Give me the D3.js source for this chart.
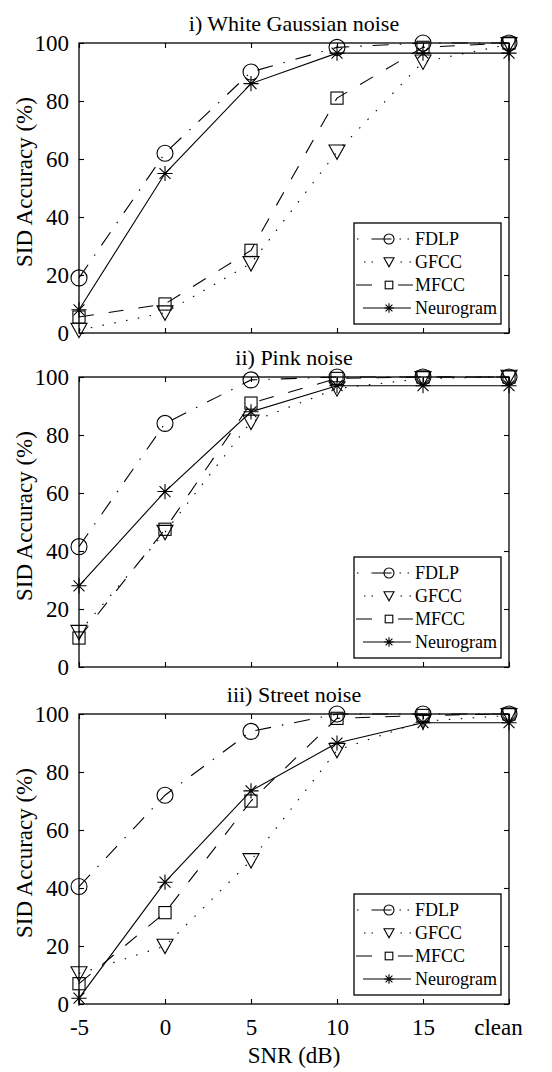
<!DOCTYPE html>
<html>
<head>
<meta charset="utf-8">
<script src="https://cdn.jsdelivr.net/npm/d3@7"></script>
<style>
body { margin: 0; background: #fff; }
svg { display: block; background: #fff; }
svg text { font-family: "Liberation Serif", "Times New Roman", "DejaVu Serif", serif !important; fill: #000; }
</style>
</head>
<body>
<svg width="552" height="1072"></svg>
<script>
// x categories and y ticks
var snrLabels = ["-5", "0", "5", "10", "15", "clean"];
var yTicks = [0, 20, 40, 60, 80, 100];
var panelTitles = ["i) White Gaussian noise", "ii) Pink noise", "iii) Street noise"];
var seriesNames = ["FDLP", "GFCC", "MFCC", "Neurogram"];

// SID accuracy (%)
var fdlpWhite  = [19, 62, 90, 98.5, 100, 100];
var gfccWhite  = [1, 7, 24, 62.5, 93.5, 99.5];
var mfccWhite  = [5.5, 10, 28.5, 81, 98.5, 100];
var neuroWhite = [8, 55, 86, 96.5, 96.5, 96.5];

var fdlpPink  = [41.5, 84, 99, 100, 100, 100];
var gfccPink  = [12, 46.5, 84.5, 96, 99.5, 100];
var mfccPink  = [10, 47.5, 91, 99.5, 100, 100];
var neuroPink = [28, 60.5, 88, 97, 97, 97];

var fdlpStreet  = [40.5, 72, 94, 100, 100, 100];
var gfccStreet  = [10.5, 20, 49.5, 87.5, 97.5, 99.5];
var mfccStreet  = [7, 31.5, 70, 98.5, 99.5, 100];
var neuroStreet = [2, 42, 73.5, 90, 97, 97];

var panelData = [
    [fdlpWhite, gfccWhite, mfccWhite, neuroWhite],
    [fdlpPink, gfccPink, mfccPink, neuroPink],
    [fdlpStreet, gfccStreet, mfccStreet, neuroStreet]
];

/*
layout
*/
var svg = d3.select("svg"),
    margin = {left: 79, right: 43},
    width = +svg.attr("width") - margin.left - margin.right,
    panelTop = [43, 377, 714],
    panelHeight = 290;

var xScale = d3.scalePoint().domain(snrLabels).range([0, width]);

// line style + marker for each series (legend samples have their own short patterns)
var seriesStyle = {
    FDLP:      {dash: "16,11,1.5,11", marker: "circle",   leg: [3, 58, "1.5,13,20,8,1.5,6.5,1.5,20"]},
    GFCC:      {dash: "1.5,10.5",     marker: "triangle", leg: [10, 58, "1.5,6,1.5,27.5,1.5,7.5,1.5,20"]},
    MFCC:      {dash: "15,15",        marker: "square",   leg: [2, 59, "16,26,16"]},
    Neurogram: {dash: null,           marker: "asterisk", leg: [9, 57, null]}
};

function drawMarker(sel, type, s) {
    var h = s / 2;
    if (type === "circle") {
        sel.append("circle").attr("r", h);
    } else if (type === "triangle") {
        sel.append("path").attr("d", "M" + (-h) + "," + (-h * 0.85) + "L" + h + "," + (-h * 0.85) + "L0," + (h * 0.95) + "Z");
    } else if (type === "square") {
        var q = s * 0.38;
        sel.append("rect").attr("x", -q).attr("y", -q).attr("width", 2 * q).attr("height", 2 * q);
    } else {
        var a = h * 0.95, d = a * 0.72;
        sel.append("path").attr("d",
            "M" + (-a) + ",0L" + a + ",0" +
            "M0," + (-a) + "L0," + a +
            "M" + (-d) + "," + (-d) + "L" + d + "," + d +
            "M" + (-d) + "," + d + "L" + d + "," + (-d));
    }
    sel.selectAll("circle,path,rect")
        .attr("fill", "none")
        .attr("stroke", "#000")
        .attr("stroke-width", 1.1);
}

function styleAxis(ax, showLabels) {
    ax.select(".domain").remove();
    ax.selectAll(".tick line").attr("stroke", "#000").attr("stroke-width", 1.1);
    ax.attr("font-size", 23);
    if (!showLabels) ax.selectAll(".tick text").remove();
}

panelData.forEach(function(series, p) {
    var isLast = p === panelData.length - 1;
    var g = svg.append("g").attr("transform", "translate(" + margin.left + "," + panelTop[p] + ")");
    var yScale = d3.scaleLinear().domain([0, 100]).range([panelHeight, 0]);

    // axes with inward ticks on all four sides
    g.append("g").call(d3.axisLeft(yScale).tickValues(yTicks).tickSize(-5).tickPadding(10))
        .call(styleAxis, true);
    g.append("g").attr("transform", "translate(" + width + ",0)")
        .call(d3.axisRight(yScale).tickValues(yTicks).tickSize(-5))
        .call(styleAxis, false);
    g.append("g")
        .call(d3.axisTop(xScale).tickSize(-5))
        .call(styleAxis, false);
    var xAxis = g.append("g").attr("transform", "translate(0," + panelHeight + ")")
        .call(d3.axisBottom(xScale).tickSize(-5).tickPadding(15))
        .call(styleAxis, isLast);
    if (isLast) {
        xAxis.selectAll(".tick text").filter(function(d) { return d === "clean"; }).attr("dx", -11);
    }

    g.append("rect")
        .attr("width", width)
        .attr("height", panelHeight)
        .attr("fill", "none")
        .attr("stroke", "#000")
        .attr("stroke-width", 1.3);

    // title
    g.append("text")
        .attr("x", width / 2)
        .attr("y", -12)
        .attr("text-anchor", "middle")
        .attr("font-size", 22)
        .text(panelTitles[p]);

    // y label
    g.append("text")
        .attr("transform", "translate(" + (32 - margin.left) + "," + (panelHeight / 2 - 6) + ") rotate(-90)")
        .attr("text-anchor", "middle")
        .attr("font-size", 23)
        .text("SID Accuracy (%)");

    var line = d3.line()
        .x(function(d, i) { return xScale(snrLabels[i]); })
        .y(function(d) { return yScale(d); });

    series.forEach(function(vals, s) {
        var st = seriesStyle[seriesNames[s]];
        g.append("path")
            .attr("d", line(vals))
            .attr("fill", "none")
            .attr("stroke", "#000")
            .attr("stroke-width", 1.1)
            .attr("stroke-dasharray", st.dash);
        g.selectAll(".m" + s)
            .data(vals)
            .enter().append("g")
            .attr("class", "m" + s)
            .attr("transform", function(d, i) { return "translate(" + xScale(snrLabels[i]) + "," + yScale(d) + ")"; })
            .each(function() { drawMarker(d3.select(this), st.marker, 16); });
    });

    // legend
    var lw = 147, lh = 101;
    var leg = g.append("g").attr("transform", "translate(" + (width - 8 - lw) + "," + (panelHeight - 9 - lh) + ")");
    leg.append("rect")
        .attr("width", lw).attr("height", lh)
        .attr("fill", "#fff").attr("stroke", "#000").attr("stroke-width", 1.3);
    seriesNames.forEach(function(name, s) {
        var st = seriesStyle[name];
        var row = leg.append("g").attr("transform", "translate(0," + (16 + s * 23) + ")");
        row.append("line")
            .attr("x1", st.leg[0]).attr("x2", st.leg[1])
            .attr("stroke", "#000").attr("stroke-width", 1.1)
            .attr("stroke-dasharray", st.leg[2]);
        drawMarker(row.append("g").attr("transform", "translate(35,0)"), st.marker, 10);
        row.append("text")
            .attr("x", 61).attr("dy", "0.35em")
            .attr("font-size", 18)
            .text(name);
    });
});

// x label
svg.append("text")
    .attr("x", margin.left + width / 2)
    .attr("y", 1063)
    .attr("text-anchor", "middle")
    .attr("font-size", 23)
    .text("SNR (dB)");
</script>
</body>
</html>
